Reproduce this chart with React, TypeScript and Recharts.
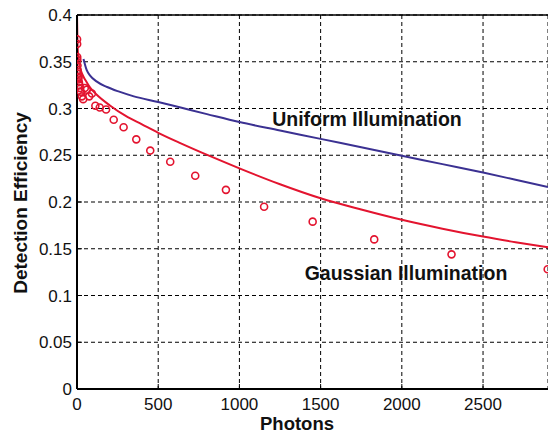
import React from "react";
import {
  ComposedChart,
  Line,
  Scatter,
  XAxis,
  YAxis,
  CartesianGrid,
  ReferenceLine,
} from "recharts";

// values
const uniformPhotons = [40, 60, 82, 120, 185, 260, 350, 500, 650, 800, 1000, 1250, 1500, 1750, 2000, 2250, 2500, 2700, 2900];
const uniformEff = [0.353, 0.341, 0.335, 0.329, 0.323, 0.318, 0.313, 0.307, 0.3005, 0.294, 0.2855, 0.2765, 0.2675, 0.2585, 0.2495, 0.2405, 0.2315, 0.2238, 0.216];

const gaussPhotons = [0, 3, 8, 15, 25, 40, 60, 82, 120, 205, 300, 400, 500, 636, 820, 1000, 1250, 1500, 1750, 2000, 2250, 2500, 2700, 2900];
const gaussEff = [0.4, 0.37, 0.355, 0.346, 0.34, 0.334, 0.328, 0.322, 0.315, 0.303, 0.292, 0.283, 0.274, 0.263, 0.249, 0.236, 0.219, 0.204, 0.192, 0.181, 0.1715, 0.163, 0.157, 0.1515];

const measPhotons = [0.5, 1, 1.5, 2, 3, 4, 5, 6, 8, 10, 12, 15, 19, 24, 30, 38, 48, 60, 75, 92, 113, 140, 179, 226, 287, 365, 451, 574, 728, 917, 1152, 1451, 1830, 2306, 2898];
const measEff = [0.374, 0.369, 0.355, 0.352, 0.346, 0.341, 0.337, 0.333, 0.331, 0.334, 0.328, 0.325, 0.322, 0.318, 0.313, 0.31, 0.322, 0.32, 0.313, 0.316, 0.303, 0.301, 0.299, 0.288, 0.28, 0.267, 0.255, 0.243, 0.228, 0.213, 0.195, 0.179, 0.16, 0.144, 0.128];

const xTicks = [0, 500, 1000, 1500, 2000, 2500];
const yTicks = [0, 0.05, 0.1, 0.15, 0.2, 0.25, 0.3, 0.35, 0.4];

const uniformData = uniformPhotons.map((x, i) => ({ x, y: uniformEff[i] }));
const gaussData = gaussPhotons.map((x, i) => ({ x, y: gaussEff[i] }));
const measData = measPhotons.map((x, i) => ({ x, y: measEff[i] }));

const RED = "#e3142f";
const BLUE = "#3b3192";
const FONT = "'Liberation Sans', Arial, sans-serif";

const ring = (props: any) => (
  <circle cx={props.cx} cy={props.cy} r={3.5} fill="none" stroke={RED} strokeWidth={1.6} />
);

export default function App() {
  return (
    <div style={{ position: "absolute", left: 0, top: 0, width: 548, height: 435, background: "#fff" }}>
      <ComposedChart width={548} height={435} margin={{ top: 15, right: 0, left: 0, bottom: 0 }} style={{ fontFamily: FONT }}>
        <CartesianGrid stroke="#000" strokeDasharray="4 3" strokeWidth={1} />
        <XAxis
          dataKey="x"
          type="number"
          domain={[0, 2900]}
          ticks={xTicks}
          allowDataOverflow
          height={46}
          tickSize={-5}
          tickMargin={14}
          axisLine={{ stroke: "#000", strokeWidth: 2 }}
          tickLine={{ stroke: "#000" }}
          tick={{ fill: "#111", fontSize: 17, fontFamily: FONT }}
          label={{
            content: () => (
              <text x={297} y={430} textAnchor="middle" fill="#111" fontSize={18.5} fontWeight="bold" fontFamily={FONT}>
                Photons
              </text>
            ),
          }}
        />
        <YAxis
          dataKey="y"
          type="number"
          domain={[0, 0.4]}
          ticks={yTicks}
          width={77}
          tickSize={-5}
          tickMargin={10}
          axisLine={{ stroke: "#000", strokeWidth: 2 }}
          tickLine={{ stroke: "#000" }}
          tick={{ fill: "#111", fontSize: 17, fontFamily: FONT }}
          label={{
            content: () => (
              <text x={27} y={203} transform="rotate(-90, 27, 203)" textAnchor="middle" fill="#111" fontSize={19} fontWeight="bold" fontFamily={FONT}>
                Detection Efficiency
              </text>
            ),
          }}
        />
        <ReferenceLine y={0.4} stroke="#000" strokeWidth={1.5} />
        <Line data={uniformData} dataKey="y" type="monotone" stroke={BLUE} strokeWidth={2} dot={false} isAnimationActive={false} />
        <Line data={gaussData} dataKey="y" type="monotone" stroke={RED} strokeWidth={2} dot={false} isAnimationActive={false} />
        <Scatter data={measData} dataKey="y" shape={ring} isAnimationActive={false} />
        <text x={367} y={119} textAnchor="middle" dominantBaseline="central" fill="#111" fontSize={19.5} fontWeight="bold" fontFamily={FONT}>
          Uniform Illumination
        </text>
        <text x={406} y={273} textAnchor="middle" dominantBaseline="central" fill="#111" fontSize={19.5} fontWeight="bold" fontFamily={FONT}>
          Gaussian Illumination
        </text>
      </ComposedChart>
    </div>
  );
}
